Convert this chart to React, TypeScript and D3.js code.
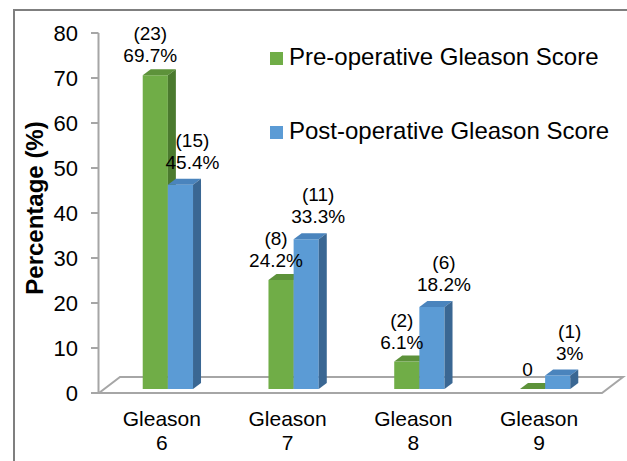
import React from "react"
import * as d3 from "d3"

const categories = ["6", "7", "8", "9"]
const categoryPrefix = "Gleason"
const preValues = [69.7, 24.2, 6.1, 0]
const preCounts = [23, 8, 2, 0]
const postValues = [45.4, 33.3, 18.2, 3]
const postCounts = [15, 11, 6, 1]
const yTicks = [0, 10, 20, 30, 40, 50, 60, 70, 80]
const seriesNames = ["Pre-operative Gleason Score", "Post-operative Gleason Score"]

const font = "'Liberation Sans', Arial, sans-serif"
const width = 627
const height = 461

// front / top / side shades of each series
const palette = [
  { front: "#70ad47", top: "#5d923a", side: "#4b7a2e" },
  { front: "#5b9bd5", top: "#4a84bd", side: "#3a6793" },
]

const floorDepth = { dx: 21, dy: -16 }
const barOffset = { dx: 6, dy: -4 }
const barDepth = { dx: 8, dy: -6 }
const labelNudge = [
  { dx: -5, gap: 13 },
  { dx: 12, gap: 16 },
]

function Bar3D({ x, w, top, base, colors }) {
  const d = barDepth
  const front = `M${x},${top}H${x + w}V${base}H${x}Z`
  const topFace = `M${x},${top}L${x + d.dx},${top + d.dy}H${x + w + d.dx}L${x + w},${top}Z`
  const side = `M${x + w},${top}L${x + w + d.dx},${top + d.dy}V${base + d.dy}L${x + w},${base}Z`
  return (
    <g>
      <path d={front} fill={colors.front} />
      <path d={topFace} fill={colors.top} />
      <path d={side} fill={colors.side} />
    </g>
  )
}

export default function App() {
  const x = d3.scaleBand().domain(categories).range([99, 602])
  const y = d3.scaleLinear().domain([0, 80]).range([393, 33])
  const barW = x.bandwidth() * 0.2
  const base = y(0) + barOffset.dy
  const series = [
    { values: preValues, counts: preCounts },
    { values: postValues, counts: postCounts },
  ]

  const x0 = x.range()[0]
  const x1 = x.range()[1]
  const y0 = y(0)
  const floor = `M${x0},${y0}H${x1}L${x1 + floorDepth.dx},${y0 + floorDepth.dy}H${x0 + floorDepth.dx}Z`

  return (
    <div style={{ position: "absolute", left: 0, top: 0 }}>
      <svg width={width} height={height} style={{ display: "block", background: "#fff" }} fontFamily={font}>
        <rect x={14} y={10} width={700} height={500} fill="#fff" stroke="#7f7f7f" strokeWidth={2} />

        {/* floor */}
        <path d={floor} fill="#fff" stroke="#a6a6a6" strokeWidth={2} />

        {/* value axis */}
        <line x1={98.5} x2={98.5} y1={y(80)} y2={y(0)} stroke="#a6a6a6" strokeWidth={2} />
        {yTicks.map(t => (
          <g key={t} transform={`translate(0,${y(t)})`}>
            <line x1={91} x2={98.5} stroke="#a6a6a6" strokeWidth={2} />
            <text x={78} dy="0.35em" textAnchor="end" fontSize={22} fill="#000">
              {t}
            </text>
          </g>
        ))}
        <text
          transform={`translate(43,208) rotate(-90)`}
          textAnchor="middle"
          fontSize={24}
          fontWeight="bold"
          fill="#000"
        >
          Percentage (%)
        </text>

        {/* bars */}
        {categories.map((c, i) => {
          const cx = x(c) + x.bandwidth() / 2 + barOffset.dx
          return (
            <g key={c}>
              {series.map((s, k) => {
                const bx = cx - barW + k * barW
                return (
                  <Bar3D
                    key={k}
                    x={bx}
                    w={barW}
                    top={y(s.values[i]) + barOffset.dy}
                    base={base}
                    colors={palette[k]}
                  />
                )
              })}
            </g>
          )
        })}

        {/* data labels */}
        {categories.map((c, i) =>
          series.map((s, k) => {
            const v = s.values[i]
            const lx = x(c) + x.bandwidth() / 2 + barOffset.dx - barW / 2 + k * barW + labelNudge[k].dx
            const ly = y(v) + barOffset.dy - labelNudge[k].gap
            return (
              <text key={c + k} x={lx} y={ly} textAnchor="middle" fontSize={19} fill="#000">
                {v === 0 ? (
                  "0"
                ) : (
                  <>
                    <tspan x={lx} dy={-22}>{`(${s.counts[i]})`}</tspan>
                    <tspan x={lx} dy={22}>{`${v}%`}</tspan>
                  </>
                )}
              </text>
            )
          })
        )}

        {/* category labels */}
        {categories.map(c => {
          const cx = x(c) + x.bandwidth() / 2
          return (
            <text key={c} x={cx} y={426} textAnchor="middle" fontSize={21} fill="#000">
              <tspan x={cx}>{categoryPrefix}</tspan>
              <tspan x={cx} dy={24}>{c}</tspan>
            </text>
          )
        })}

        {/* legend */}
        {seriesNames.map((name, k) => (
          <g key={name} transform={`translate(270,${52 + k * 74})`}>
            <rect width={13} height={13} fill={palette[k].front} />
            <text x={19} y={13} fontSize={24} fill="#000">
              {name}
            </text>
          </g>
        ))}
      </svg>
    </div>
  )
}
